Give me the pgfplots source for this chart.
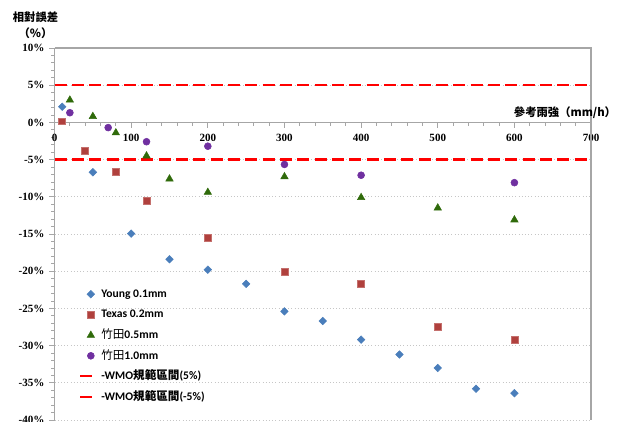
\documentclass[border=0pt]{standalone}
\usepackage{fontspec}
\setmainfont{Liberation Serif}
\newfontfamily\cjk{Noto Sans CJK TC}
\newfontfamily\carlito{Carlito}
\usepackage{pgfplots}
\pgfplotsset{compat=1.18}
\definecolor{cYoung}{HTML}{4A7EBB}
\definecolor{cTexas}{HTML}{B0403D}
\definecolor{cG}{HTML}{2F6A0A}
\definecolor{cP}{HTML}{7030A0}
\definecolor{axgray}{HTML}{A6A6A6}
\pgfplotsset{
  markimg/.style={legend image code/.code={\path (0pt,0pt) (9pt,0pt); \draw[##1] plot coordinates {(8pt,0pt)};}},
  lineimg/.style={legend image code/.code={\draw[##1, solid, line width=1.5pt] (0pt,0pt) -- (9pt,0pt);}},
}
\begin{document}
\begin{tikzpicture}
\useasboundingbox (0,0) rectangle (462.75pt,315.75pt);
\begin{axis}[
  at={(40.9pt,0.75pt)}, anchor=south west,
  scale only axis, width=402.4pt, height=279pt,
  xmin=0, xmax=700, ymin=-40, ymax=10,
  axis x line=middle, axis y line=left,
  hide obscured x ticks=false, hide obscured y ticks=false,
  axis line style={draw=axgray, line width=0.8pt, -},
  xtick={0,100,...,700},
  xticklabels={0,100,200,300,400,500,600,700},
  ytick={-40,-35,...,10},
  yticklabels={-40\%,-35\%,-30\%,-25\%,-20\%,-15\%,-10\%,-5\%,0\%,5\%,10\%},
  minor x tick num=4, minor y tick num=4,
  tick align=outside,
  major tick length=4pt, minor tick length=2.5pt,
  tick style={draw=axgray, line width=0.6pt},
  ticklabel style={font=\fontsize{8.3}{9.6}\selectfont\bfseries},
  xticklabel style={yshift=-1pt},
  ymajorgrids, grid style={draw=gray!45, dotted, line width=0.6pt},
  clip=false,
  legend cell align=left,
  legend style={at={(0.038,0.36)}, anchor=north west, draw=none, fill=none,
    font=\fontsize{8.7}{10}\selectfont\carlito\bfseries,
    nodes={inner sep=0pt, text height=6.3pt, text depth=1.5pt},
    row sep=7.6pt, column sep=5pt},
]
\draw[axgray, line width=0.9pt] (rel axis cs:0,1) -- (rel axis cs:1,1) -- (rel axis cs:1,0);

\addplot[only marks, mark=square*, mark size=2pt, mark options={rotate=45}, color=cYoung, markimg]
  coordinates {(10,2.1) (50,-6.7) (100,-14.95) (150,-18.4) (200,-19.8) (250,-21.7) (300,-25.4) (350,-26.7) (400,-29.2) (450,-31.2) (500,-33.0) (550,-35.8) (600,-36.4)};
\addlegendentry{Young 0.1mm}

\addplot[only marks, mark=square*, mark size=2.6pt, color=cTexas, mark options={draw=cTexas!75}, markimg]
  coordinates {(10,0.15) (40,-3.8) (80,-6.6) (120,-10.5) (200,-15.5) (300,-20.1) (400,-21.7) (500,-27.5) (600,-29.2)};
\addlegendentry{Texas 0.2mm}

\addplot[only marks, mark=triangle*, mark size=3.2pt, color=cG, markimg]
  coordinates {(20,3.0) (50,0.8) (80,-1.4) (120,-4.5) (150,-7.6) (200,-9.4) (300,-7.3) (400,-10.1) (500,-11.5) (600,-13.1)};
\addlegendentry{{\cjk\mdseries 竹田}0.5mm}

\addplot[only marks, mark=*, mark size=2.6pt, color=cP, markimg]
  coordinates {(20,1.3) (70,-0.7) (120,-2.6) (200,-3.2) (300,-5.65) (400,-7.1) (600,-8.1)};
\addlegendentry{{\cjk\mdseries 竹田}1.0mm}

\addplot[red, line width=1.9pt, dash pattern=on 9pt off 4pt, no marks, lineimg]
  coordinates {(0,5) (700,5)};
\addlegendentry{-WMO{\cjk 規範區間}(5\%)}

\addplot[red, line width=1.9pt, dash pattern=on 9pt off 4pt, no marks, lineimg]
  coordinates {(0,-5) (700,-5)};
\addlegendentry{-WMO{\cjk 規範區間}(-5\%)}

\node[font=\fontsize{8.5}{10}\selectfont\cjk\bfseries, anchor=center] at (axis cs:666,1.3) {參考雨強（mm/h）};
\node[font=\fontsize{8.5}{12}\selectfont\cjk\bfseries, align=center, anchor=center] at ([xshift=-14.25pt, yshift=17.25pt]rel axis cs:0,1) {相對誤差\\（\%）};
\end{axis}
\end{tikzpicture}
\end{document}
